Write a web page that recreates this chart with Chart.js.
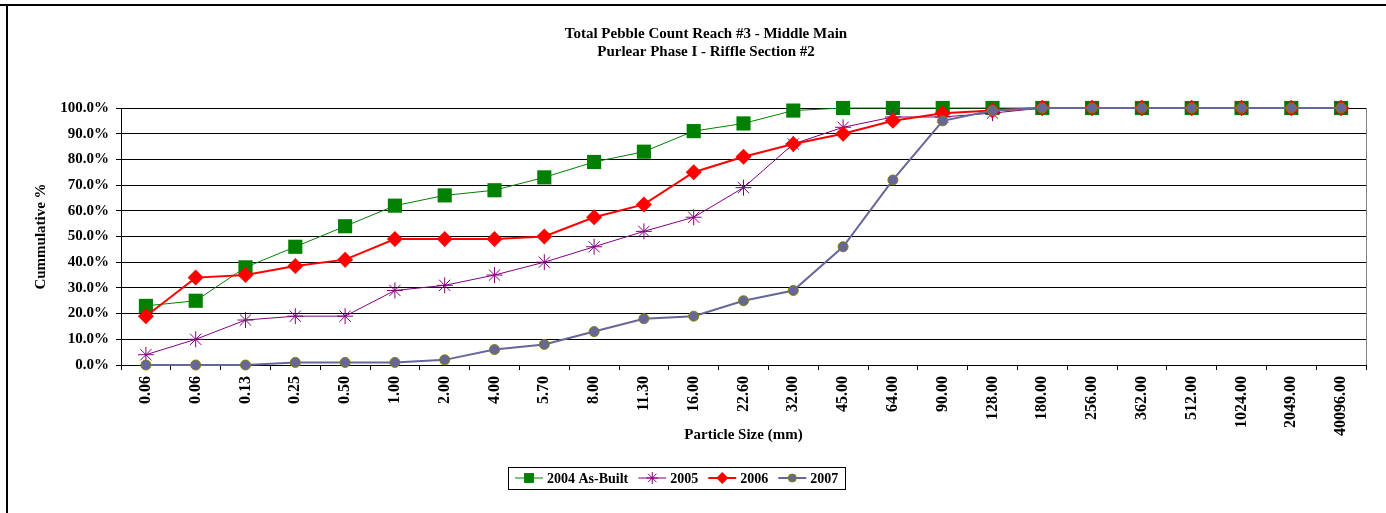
<!DOCTYPE html>
<html>
<head>
<meta charset="utf-8">
<script src="https://cdn.jsdelivr.net/npm/chart.js@4/dist/chart.umd.min.js"></script>
<style>
  html, body { margin: 0; padding: 0; background: #fff; }
  #wrap { width: 1386px; height: 513px; }
</style>
</head>
<body>
<div id="wrap"><canvas id="pebble" width="1386" height="513"></canvas></div>
<script>
(function(){
  'use strict';

  const sizes = ['0.06','0.06','0.13','0.25','0.50','1.00','2.00','4.00','5.70','8.00','11.30','16.00','22.60','32.00',
                 '45.00','64.00','90.00','128.00','180.00','256.00','362.00','512.00','1024.00','2049.00','40096.00'];
  const asBuilt2004 = [23,25,38,46,54,62,66,68,73,79,83,91,94,99,100,100,100,100,100,100,100,100,100,100,100];
  const y2005 = [4,10,17.5,19,19,29,31,35,40,46,52,57.5,69,86,92.5,96.5,96.5,98,100,100,100,100,100,100,100];
  const y2006 = [19,34,35,38.5,41,49,49,49,50,57.5,62.5,75,81,86,90,95,98,99,100,100,100,100,100,100,100];
  const y2007 = [0,0,0,1,1,1,2,6,8,13,18,19,25,29,46,72,95,99,100,100,100,100,100,100,100];
  const titleLines = ['Total Pebble Count Reach #3 - Middle Main', 'Purlear Phase I - Riffle Section #2'];

  const FONT = 'Liberation Serif';
  const boldFont = { family: FONT, size: 15, weight: 'bold' };

  const datasets = [
    { label: '2004 As-Built', data: asBuilt2004, borderColor: '#008000', backgroundColor: '#008000', borderWidth: 1,
      pointStyle: 'rect', pointRadius: 10, pointBorderWidth: 0, order: 4 },
    { label: '2005', data: y2005, borderColor: '#800080', backgroundColor: '#800080', borderWidth: 1,
      pointStyle: 'star', pointRadius: 8, pointBorderWidth: 1, order: 3 },
    { label: '2006', data: y2006, borderColor: '#ff0000', backgroundColor: '#ff0000', borderWidth: 2,
      pointStyle: 'rectRot', pointRadius: 8, pointBorderWidth: 0, order: 2 },
    { label: '2007', data: y2007, borderColor: '#666699', backgroundColor: '#666699', borderWidth: 2,
      pointStyle: 'circle', pointRadius: 5, pointBorderColor: '#808000', pointBorderWidth: 1, order: 1 }
  ];
  datasets.forEach(d => { d.fill = false; d.tension = 0; d.clip = false; d.pointHoverRadius = d.pointRadius; });

  // frame, title (sits a bit right of centre, like the original), plot border and boxed legend
  const decor = {
    id: 'decor',
    afterDraw(chart){
      const { ctx, chartArea: a } = chart;
      ctx.save();
      ctx.strokeStyle = '#000'; ctx.lineWidth = 2;
      ctx.beginPath(); ctx.moveTo(0, 5); ctx.lineTo(1386, 5); ctx.moveTo(7, 5); ctx.lineTo(7, 513); ctx.stroke();
      ctx.strokeStyle = '#808080'; ctx.lineWidth = 1;
      ctx.beginPath(); ctx.moveTo(Math.round(a.right) + 0.5, a.top); ctx.lineTo(Math.round(a.right) + 0.5, a.bottom); ctx.stroke();

      ctx.fillStyle = '#000';
      ctx.textAlign = 'center';
      ctx.textBaseline = 'middle';
      ctx.font = 'bold 15px "' + FONT + '"';
      titleLines.forEach((t, i) => ctx.fillText(t, 706, 34 + i * 18));

      ctx.font = 'bold 14px "' + FONT + '"';
      const sample = 28, gapIn = 4, gapOut = 10, pad = 7;
      const widths = datasets.map(d => sample + gapIn + ctx.measureText(d.label).width);
      const total = widths.reduce((s, w) => s + w, 0) + gapOut * (datasets.length - 1) + pad * 2;
      const cx = 677, cy = 478;
      const left = Math.round(cx - total / 2);
      ctx.strokeStyle = '#000'; ctx.lineWidth = 1;
      ctx.strokeRect(left + 0.5, 467.5, Math.round(total), 22);
      let x = left + pad;
      datasets.forEach((d, i) => {
        ctx.strokeStyle = d.borderColor; ctx.lineWidth = d.borderWidth;
        ctx.beginPath(); ctx.moveTo(x, cy); ctx.lineTo(x + sample, cy); ctx.stroke();
        const r = d.pointStyle === 'rect' ? 7 : (d.pointStyle === 'circle' ? 4 : 6);
        ctx.fillStyle = d.backgroundColor;
        ctx.strokeStyle = d.pointBorderColor || d.borderColor;
        ctx.lineWidth = d.pointBorderWidth || 1;
        Chart.helpers.drawPoint(ctx, { pointStyle: d.pointStyle, radius: r, borderWidth: d.pointBorderWidth }, x + sample / 2, cy);
        ctx.fillStyle = '#000';
        ctx.textAlign = 'left';
        ctx.fillText(d.label, x + sample + gapIn, cy + 1);
        x += widths[i] + gapOut;
      });
      ctx.restore();
    }
  };

  new Chart(document.getElementById('pebble'), {
    type: 'line',
    data: { labels: sizes, datasets },
    options: {
      responsive: false,
      animation: false,
      layout: { padding: { left: 0, right: 20, top: 108, bottom: 58 } },
      plugins: {
        legend: { display: false },
        tooltip: { enabled: false },
        title: { display: false }
      },
      scales: {
        x: {
          offset: true,
          afterFit(scale){ scale.height = 90; },
          grid: { offset: true, drawOnChartArea: false, drawTicks: true, tickLength: 5, color: '#000' },
          border: { color: '#000' },
          ticks: { color: '#000', font: { family: FONT, size: 16, weight: 'bold' }, minRotation: 90, maxRotation: 90, autoSkip: false, padding: 6 },
          title: { display: true, text: 'Particle Size (mm)', color: '#000', font: boldFont, padding: { top: 0, bottom: 11 } }
        },
        y: {
          min: 0, max: 100,
          afterFit(scale){ scale.width = 121; },
          grid: { color: '#000', tickLength: 5 },
          border: { color: '#000' },
          ticks: { stepSize: 10, color: '#000', font: boldFont, padding: 7, callback: v => v.toFixed(1) + '%' },
          title: { display: true, text: 'Cummulative %', color: '#000', font: boldFont, padding: { top: 32, bottom: 32 } }
        }
      }
    },
    plugins: [decor]
  });
})();
</script>
</body>
</html>
